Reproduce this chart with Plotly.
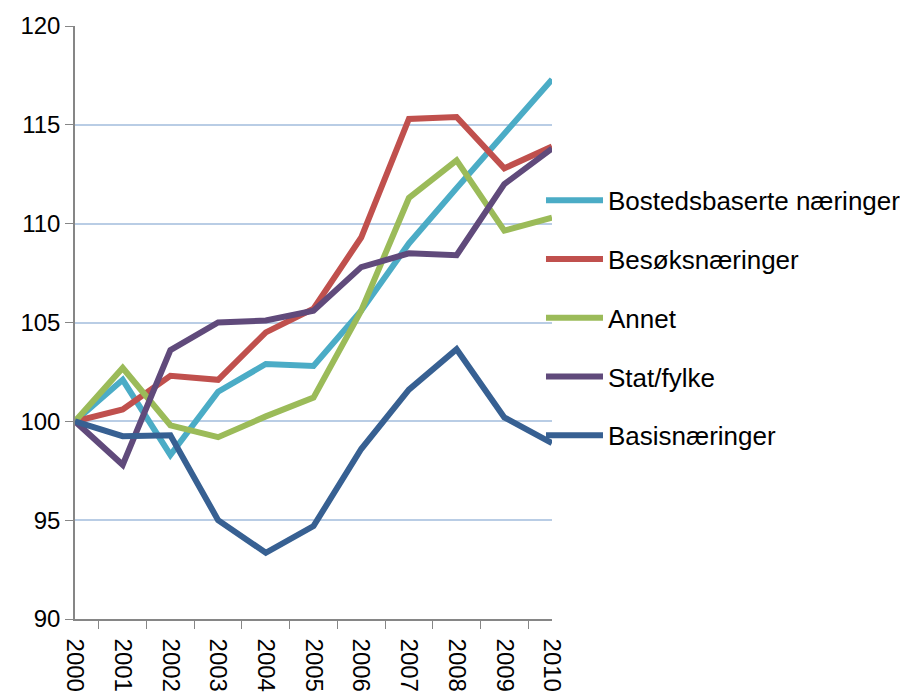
import plotly.graph_objects as go

years = ["2000", "2001", "2002", "2003", "2004", "2005", "2006", "2007", "2008", "2009", "2010"]

bostedsbaserte = [100, 102.1, 98.3, 101.5, 102.9, 102.8, 105.6, 109.0, 111.8, 114.5, 117.3]
besok = [100, 100.6, 102.3, 102.1, 104.5, 105.7, 109.3, 115.3, 115.4, 112.8, 113.9]
annet = [100, 102.7, 99.8, 99.2, 100.25, 101.2, 105.6, 111.3, 113.2, 109.65, 110.3]
stat_fylke = [100, 97.8, 103.6, 105.0, 105.1, 105.6, 107.8, 108.5, 108.4, 112.0, 113.8]
basis = [100, 99.25, 99.3, 95.0, 93.35, 94.7, 98.6, 101.6, 103.65, 100.2, 98.9]

series_names = ["Bostedsbaserte næringer", "Besøksnæringer", "Annet", "Stat/fylke", "Basisnæringer"]
series_values = [bostedsbaserte, besok, annet, stat_fylke, basis]
colors = ["#4BACC6", "#C0504D", "#9BBB59", "#604A7B", "#376092"]

fig = go.Figure()
for i, (name, vals, col) in enumerate(zip(series_names, series_values, colors)):
    fig.add_trace(go.Scatter(
        x=years, y=vals, name=name, mode="lines",
        line=dict(color=col, width=6),
        legendgroup=f"g{i}",
    ))

fig.update_layout(
    width=908, height=692,
    margin=dict(l=67, r=364, t=18, b=81, autoexpand=False),
    plot_bgcolor="white", paper_bgcolor="white",
    font=dict(family="Liberation Sans, Arial, sans-serif", size=24, color="black"),
    showlegend=True,
    legend=dict(
        xref="container", x=0.587, xanchor="left",
        yref="paper", y=0.508, yanchor="middle",
        traceorder="grouped", tracegroupgap=22,
        font=dict(size=26, color="black"),
        bgcolor="rgba(0,0,0,0)",
        itemwidth=57,
    ),
)
fig.update_xaxes(
    type="category", tickangle=90, tickson="boundaries",
    ticks="outside", ticklen=8, tickcolor="#868686",
    showline=True, linecolor="#868686", linewidth=1.5,
    showgrid=False, automargin=False, ticklabelstandoff=13,
    tickfont=dict(size=24),
)
fig.update_yaxes(
    range=[90, 120], dtick=5, tick0=90,
    ticks="outside", ticklen=8, tickcolor="#868686",
    showline=True, linecolor="#868686", linewidth=1.5,
    showgrid=True, gridcolor="#B9CDE5", gridwidth=1.5,
    zeroline=False, automargin=False,
    tickfont=dict(size=24),
)

fig.write_html("out.html")
